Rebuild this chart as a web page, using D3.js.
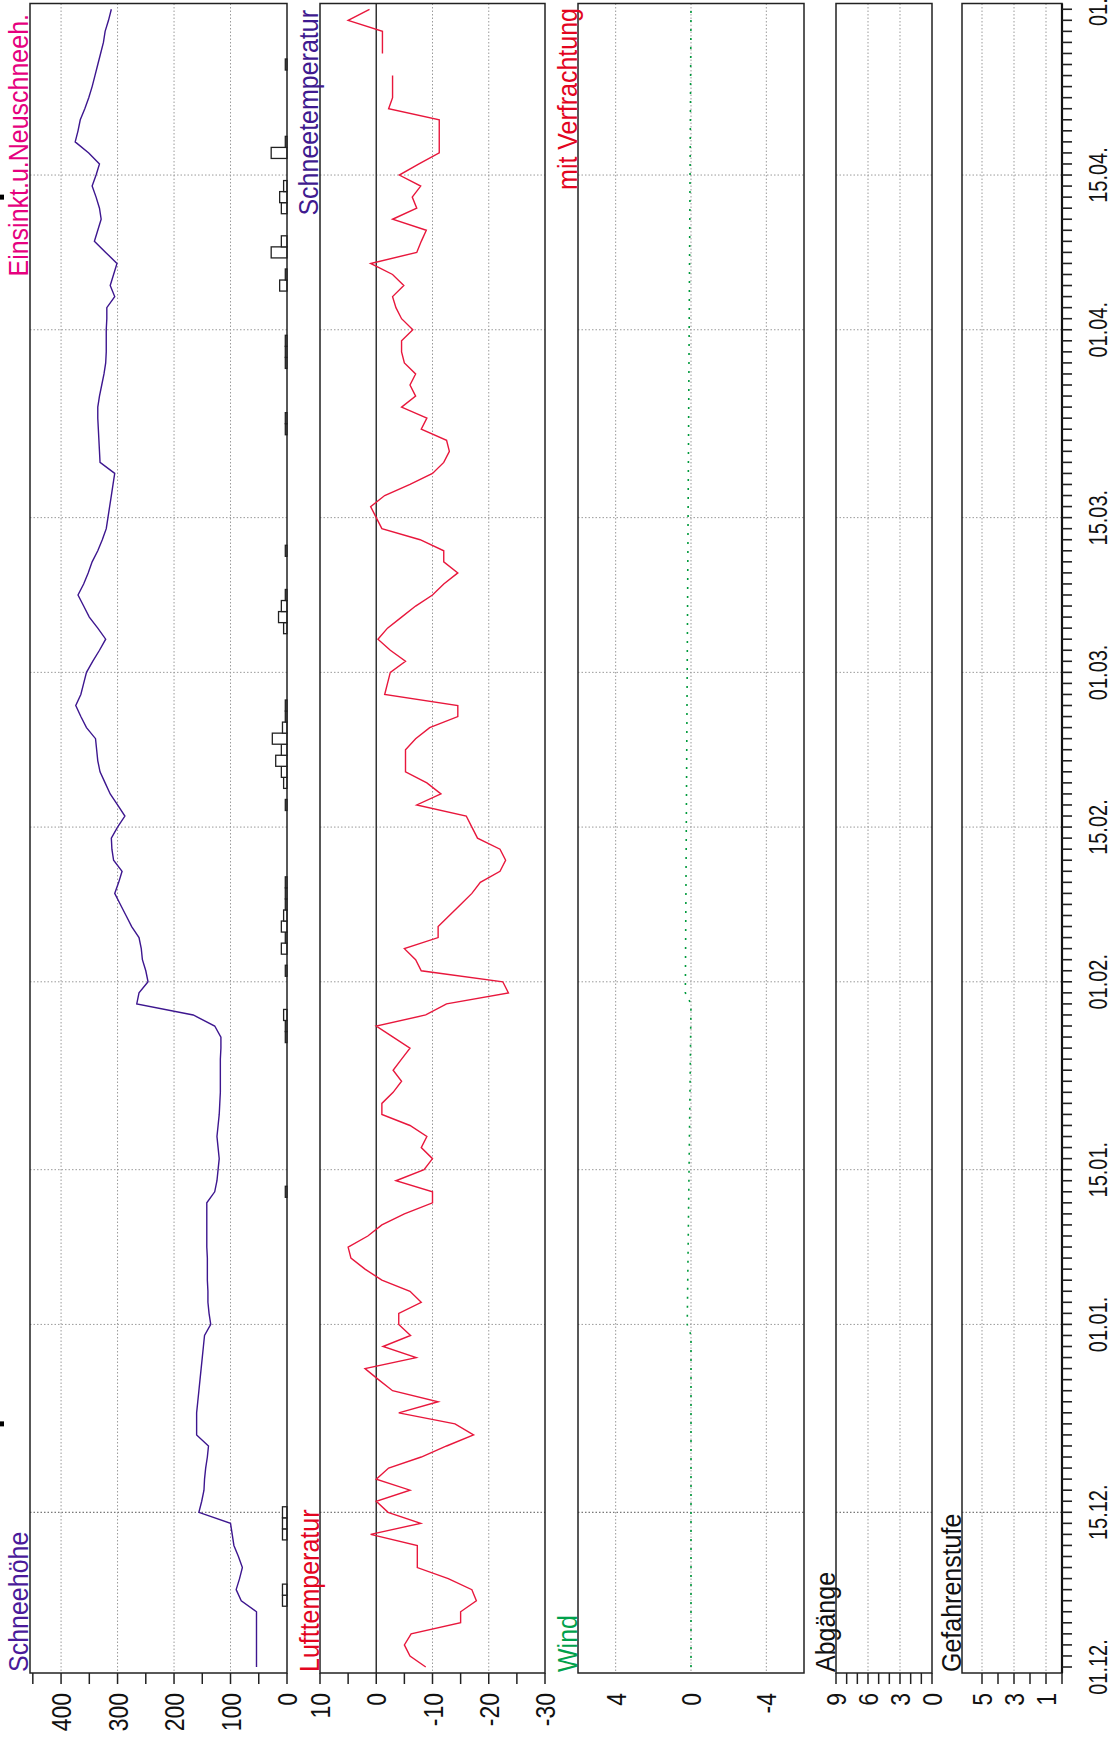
<!DOCTYPE html>
<html><head><meta charset="utf-8">
<script src="https://cdn.jsdelivr.net/npm/d3@7"></script>
<style>body{margin:0;background:#fff}svg{display:block}text{font-family:"Liberation Sans",Arial,sans-serif}</style>
</head><body><svg id="c" width="1112" height="1742"></svg>
<script>
// ---------------- DATA ----------------
const firstDay = '2022-12-01';   // daily series start (01.12.)
// Schneehöhe [cm], one value per day 01.12. – 30.04.
const snowDepth = [
 54,54,54,54,54,54,81,90,84,79,86,94,97,100,156,151,147,146,144,141,139,160,160,160,158,156,154,152,150,148,146,
 135,138,140,140,141,141,141,142,142,142,142,142,128,124,122,120,122,124,122,120,119,118,118,118,118,117,117,128,166,266,262,
 246,250,256,258,262,275,285,295,305,298,292,307,310,311,300,287,300,313,322,331,335,337,339,355,365,374,365,360,
 355,344,332,321,335,350,360,370,360,352,345,335,327,320,317,314,311,308,305,331,332,333,334,335,335,332,328,324,321,320,320,
 320,319,319,305,313,307,301,321,341,335,329,332,338,345,338,332,351,375,370,366,358,351,345,340,335,330,325,322,316,311
];
// Lufttemperatur [°C], one value per day 01.12. – 30.04. (null = no value)
const airTemp = [
 -8.8,-6,-5,-6.2,-15,-15,-17.8,-17,-12.8,-7.3,-7.3,-7.3,1,-7.9,-2.1,0,-6,0,-2.2,-8,-12.5,-17.3,-14,-4,-11,-2.9,-0.4,2,-7.1,-1.2,-6.1,
 -4,-4,-8,-6,-1,2,4.5,5,1.5,-1,-5,-10,-10,-3.5,-8.5,-10,-8,-9,-6,-1,-1,-3,-4.5,-3,-4.5,-6,-3,0,-8.8,-12.5,-23.5,
 -22.5,-8,-7,-5,-11,-11,-13,-15,-17,-18.5,-22,-23,-22,-18,-17,-16,-7.2,-11.5,-9,-5.2,-5.2,-5.2,-7,-9.5,-14.5,-14.5,-1.5,-2,
 -2.5,-5.2,-2.5,-0.3,-2,-4.5,-7,-10,-12,-14.5,-12,-12,-7.8,-1,0,1,-1.5,-6,-10,-12,-13,-12.5,-8,-9,-4.5,-7,-6,-7,-5,-4.5,-4.5,
 -6.5,-4.5,-3.5,-2.9,-4.9,-2.9,1,-7.2,-8,-8.9,-2.9,-7.2,-6.4,-7.9,-4.1,-7.6,-11.2,-11.2,-11.2,-11.2,-2.2,-2.9,-2.9,-2.9,null,-1.1,-1.1,-1.1,5,1.2
];
// Neuschnee [cm]
const newSnowDates = ['2022-12-07','2022-12-08','2022-12-13','2022-12-14','2022-12-15','2023-01-13','2023-01-27','2023-01-28','2023-01-29',
 '2023-02-02','2023-02-04','2023-02-05','2023-02-06','2023-02-07','2023-02-08','2023-02-09','2023-02-10','2023-02-17',
 '2023-02-19','2023-02-20','2023-02-21','2023-02-22','2023-02-23','2023-02-24','2023-02-25','2023-02-26',
 '2023-03-05','2023-03-06','2023-03-07','2023-03-08','2023-03-12','2023-03-23','2023-03-24','2023-03-29','2023-03-30','2023-03-31',
 '2023-04-05','2023-04-06','2023-04-08','2023-04-09','2023-04-12','2023-04-13','2023-04-14','2023-04-17','2023-04-18','2023-04-25'];
const newSnowValues = [8,8,8,8,8,3,3,3,6,
 3,10,3,10,6,3,3,3,3,
 6,10,20,10,26,8,3,3,
 6,15,10,3,3,3,3,3,3,3,
 13,3,28,10,10,13,6,28,3,3];
// Wind [m/s]
const windDates = ['2022-12-01','2022-12-31','2023-01-01','2023-01-30','2023-01-31','2023-04-30'];
const windValues = [0,0,0.2,0,0.3,0];
// small marks at the left margin
const marginMarkDates = ['2022-12-23','2023-04-13'];

// axis ticks
const snowTicks = [400,300,200,100,0];
const tempTicks = [10,0,-10,-20,-30];
const windTicks = [4,0,-4];
const abgTicks = [9,6,3,0];
const gefTicks = [5,3,1];
const dateLabels = ['01.12.','15.12.','01.01.','15.01.','01.02.','15.02.','01.03.','15.03.','01.04.','15.04.','01.05.'];
const gridDates = ['15.12.','01.01.','15.01.','01.02.','15.02.','01.03.','15.03.','01.04.','15.04.'];

// ---------------- LAYOUT ----------------
const svg = d3.select('#c');
const TOP = 3.5, BOT = 1673;
const parse = d3.utcParse('%Y-%m-%d');
const lab2date = s => { const [d, m] = s.split('.').map(Number); return new Date(Date.UTC(m >= 11 ? 2022 : 2023, m - 1, d)); };
const y = d3.scaleUtc().domain([Date.UTC(2022,10,30,11), Date.UTC(2023,3,30,12,30)]).range([BOT, TOP]);
const days = d3.utcDay.range(parse(firstDay), d3.utcDay.offset(parse(firstDay), snowDepth.length));

const panels = {
  snow: {x0:30,  x1:287,  dom:[455,0], grid:[400,300,200,100], ticks:d3.range(0,451,50), labels:snowTicks},
  temp: {x0:320, x1:545,  dom:[10,-30], grid:[-10,-20], ticks:d3.range(-30,11,5), labels:tempTicks},
  wind: {x0:578, x1:804,  dom:[6,-6], grid:[4,0,-4], ticks:[], labels:windTicks},
  abg:  {x0:836, x1:932,  dom:[9,0], grid:[6,3], ticks:d3.range(0,10,1), labels:abgTicks},
  gef:  {x0:962, x1:1062, dom:[6.25,0], grid:[5,3,1], ticks:d3.range(0,6,1), labels:gefTicks}
};
Object.values(panels).forEach(p => p.x = d3.scaleLinear().domain(p.dom).range([p.x0, p.x1]));

const gridCol = '#9a9a9a';
Object.entries(panels).forEach(([k, p]) => {
  const g = svg.append('g');
  g.selectAll('line.hd').data(gridDates).join('line')
    .attr('x1', p.x0).attr('x2', p.x1)
    .attr('y1', d => y(lab2date(d))).attr('y2', d => y(lab2date(d)))
    .attr('stroke', d => d === '15.12.' ? '#555' : gridCol).attr('stroke-width', 1).attr('stroke-dasharray', '1.5,2');
  g.selectAll('line.vg').data(p.grid).join('line')
    .attr('x1', d => p.x(d)).attr('x2', d => p.x(d)).attr('y1', TOP).attr('y2', BOT)
    .attr('stroke', gridCol).attr('stroke-width', 1).attr('stroke-dasharray', '1.5,2');
  g.selectAll('line.tk').data(p.ticks).join('line')
    .attr('x1', d => p.x(d)).attr('x2', d => p.x(d)).attr('y1', BOT).attr('y2', BOT + 11)
    .attr('stroke', '#222').attr('stroke-width', 1.5);
  g.selectAll('text.tl').data(p.labels).join('text')
    .attr('transform', d => `translate(${p.x(d)},${BOT + 20}) rotate(-90) scale(1,1.22)`)
    .attr('text-anchor', 'end').attr('dy', '0.36em')
    .attr('font-size', 23).attr('fill', '#111').text(d => d);
});

const pt = panels.temp;
svg.append('line').attr('x1', pt.x(0)).attr('x2', pt.x(0)).attr('y1', TOP).attr('y2', BOT)
  .attr('stroke', '#333').attr('stroke-width', 1.5);

const ps = panels.snow;
svg.append('g').selectAll('rect').data(newSnowDates.map((d, i) => ({d: parse(d), v: newSnowValues[i]}))).join('rect')
  .attr('x', d => ps.x(d.v)).attr('width', d => ps.x(0) - ps.x(d.v))
  .attr('y', d => y(d3.utcHour.offset(d.d, 12))).attr('height', d => y(d3.utcHour.offset(d.d, -12)) - y(d3.utcHour.offset(d.d, 12)))
  .attr('fill', '#fff').attr('stroke', '#222').attr('stroke-width', 1.3);

svg.append('path').datum(days.map((d, i) => ({d, v: snowDepth[i]})))
  .attr('d', d3.line().defined(d => d.v != null).x(d => ps.x(d.v)).y(d => y(d.d)))
  .attr('fill', 'none').attr('stroke', '#3d168f').attr('stroke-width', 1.4);

svg.append('path').datum(days.map((d, i) => ({d, v: airTemp[i]})))
  .attr('d', d3.line().defined(d => d.v != null).x(d => pt.x(d.v)).y(d => y(d.d)))
  .attr('fill', 'none').attr('stroke', '#e8173c').attr('stroke-width', 1.4);

const pw = panels.wind;
svg.append('path').datum(windDates.map((d, i) => ({d: parse(d), v: windValues[i]})))
  .attr('d', d3.line().x(d => pw.x(d.v)).y(d => y(d.d)))
  .attr('fill', 'none').attr('stroke', '#009a3c').attr('stroke-width', 1.6).attr('stroke-dasharray', '2,7');

Object.values(panels).forEach(p => {
  svg.append('rect').attr('x', p.x0).attr('y', TOP).attr('width', p.x1 - p.x0).attr('height', BOT - TOP)
    .attr('fill', 'none').attr('stroke', '#222').attr('stroke-width', 1.5);
});

const ax = 1062;
svg.append('line').attr('x1', ax).attr('x2', ax).attr('y1', TOP).attr('y2', BOT).attr('stroke', '#111').attr('stroke-width', 2.2);
const tickDays = d3.utcDay.range(parse('2022-12-01'), parse('2023-05-01'));
svg.append('g').selectAll('line').data(tickDays).join('line')
  .attr('x1', ax).attr('x2', ax + 10).attr('y1', d => y(d)).attr('y2', d => y(d))
  .attr('stroke', '#222').attr('stroke-width', 1.6);
svg.append('g').selectAll('text').data(dateLabels).join('text')
  .attr('transform', d => `translate(1098,${y(lab2date(d))}) rotate(-90) scale(1,1.25)`)
  .attr('text-anchor', 'middle').attr('dy', '0.36em').attr('font-size', 20).attr('fill', '#111').text(d => d);

svg.append('g').selectAll('rect').data(marginMarkDates).join('rect')
  .attr('x', 0).attr('width', 4).attr('y', d => y(parse(d)) - 2.5).attr('height', 5).attr('fill', '#000');

const titles = [
  {t:'Schneehöhe', x:28, y:BOT - 1, a:'start', c:'#4a1a9a'},
  {t:'Einsinkt.u.Neuschneeh.', x:28, y:14, a:'end', c:'#e6007e'},
  {t:'Lufttemperatur', x:319, y:BOT - 1, a:'start', c:'#e3051f'},
  {t:'Schneetemperatur', x:318, y:10, a:'end', c:'#3f1a8f'},
  {t:'Wind', x:577, y:BOT - 1, a:'start', c:'#00a14b'},
  {t:'mit Verfrachtung', x:577, y:8, a:'end', c:'#e3051f'},
  {t:'Abgänge', x:835, y:BOT - 1, a:'start', c:'#111'},
  {t:'Gefahrenstufe', x:961, y:BOT - 1, a:'start', c:'#111'}
];
svg.append('g').selectAll('text').data(titles).join('text')
  .attr('transform', d => `translate(${d.x},${d.y}) rotate(-90) scale(1,1.1)`)
  .attr('text-anchor', d => d.a).attr('font-size', 25).attr('fill', d => d.c).text(d => d.t);
</script></body></html>
